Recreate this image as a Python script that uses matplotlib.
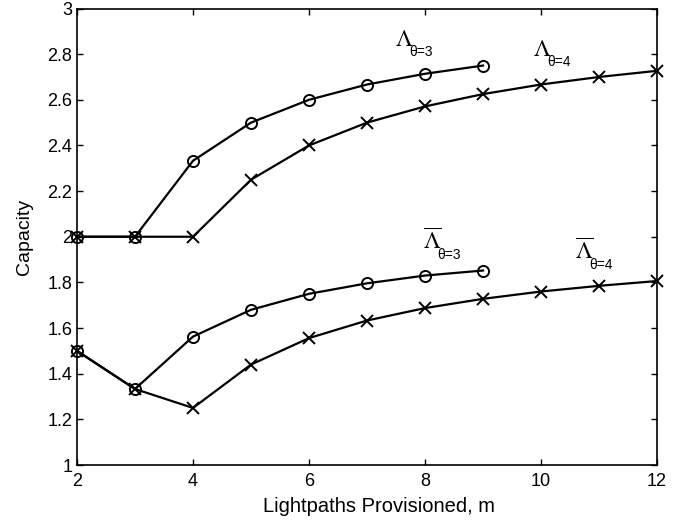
import matplotlib
matplotlib.use("Agg")
import matplotlib.pyplot as plt

plt.rcParams['font.family'] = ['Liberation Sans', 'DejaVu Sans']
plt.rcParams['mathtext.fontset'] = 'stix'

m_theta3 = [2, 3, 4, 5, 6, 7, 8, 9]
m_theta4 = [2, 3, 4, 5, 6, 7, 8, 9, 10, 11, 12]
cap_theta3 = [2.0, 2.0, 2.333, 2.5, 2.6, 2.667, 2.714, 2.75]
cap_theta4 = [2.0, 2.0, 2.0, 2.25, 2.4, 2.5, 2.571, 2.625, 2.667, 2.7, 2.727]
avg_theta3 = [1.5, 1.333, 1.5625, 1.68, 1.75, 1.796, 1.83, 1.852]
avg_theta4 = [1.5, 1.333, 1.25, 1.44, 1.556, 1.633, 1.6875, 1.728, 1.76, 1.785, 1.806]

fig = plt.figure(figsize=(6.95, 5.25), dpi=100)
ax = fig.add_axes([77/695, 60/525, 580/695, 456.5/525])

kw = dict(color='black', lw=1.6, ms=8, mew=1.4, mfc='none', clip_on=False)
ax.plot(m_theta3, cap_theta3, marker='o', **kw)
ax.plot(m_theta4, cap_theta4, marker='x', **kw)
ax.plot(m_theta3, avg_theta3, marker='o', **kw)
ax.plot(m_theta4, avg_theta4, marker='x', **kw)

ax.set_xlim(2, 12)
ax.set_ylim(1, 3)
ax.set_xticks([2, 4, 6, 8, 10, 12])
ax.set_yticks([1, 1.2, 1.4, 1.6, 1.8, 2, 2.2, 2.4, 2.6, 2.8, 3])
ax.set_yticklabels(['1', '1.2', '1.4', '1.6', '1.8', '2', '2.2', '2.4', '2.6', '2.8', '3'])
ax.tick_params(direction='in', top=True, right=True, labelsize=13, length=4, width=1)
ax.tick_params(axis='x', pad=5.5)
ax.tick_params(axis='y', pad=3.5)
for s in ax.spines.values():
    s.set_linewidth(1.2)
ax.set_xlabel('Lightpaths Provisioned, m', fontsize=14.5)
ax.xaxis.set_label_coords(0.521, -0.070)
ax.set_ylabel('Capacity', fontsize=14)
ax.yaxis.set_label_coords(-0.076, 0.5)

labels = [
    (7.483, 2.835, r'$\Lambda$', '\u03b8=3'),
    (9.862, 2.791, r'$\Lambda$', '\u03b8=4'),
    (7.966, 1.944, r'$\overline{\Lambda}$', '\u03b8=3'),
    (10.586, 1.900, r'$\overline{\Lambda}$', '\u03b8=4'),
]
for x, y, main, sub in labels:
    ax.text(x, y, main, fontsize=17, ha='left', va='baseline')
    ax.annotate(sub, xy=(x, y), xytext=(10.5, -7), textcoords='offset points',
                fontsize=10, ha='left', va='baseline')

fig.savefig('out.png', dpi=100)
